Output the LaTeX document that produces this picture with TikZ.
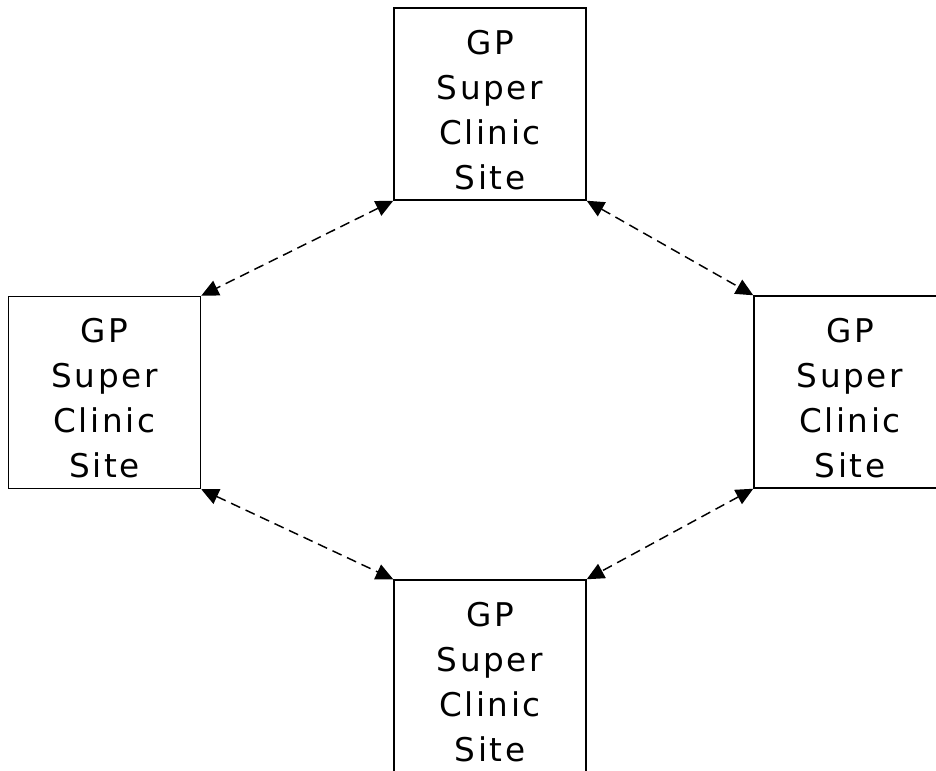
\documentclass[tikz,border=0pt]{standalone}
\usepackage{fontspec}
\usepackage{tikz}
\usetikzlibrary{arrows.meta}
\newfontfamily\sitefont{DejaVu Sans}[LetterSpace=8]

\begin{document}
\begin{tikzpicture}[x=0.75pt,y=-0.75pt,<->,>={Triangle[length=13pt,width=12pt]},
    site/.style={draw,line width=1.1pt,minimum width=144pt,minimum height=144pt,inner sep=0pt,align=center,font=\sitefont\fontsize{24.5pt}{33.75pt}\selectfont},
    link/.style={dashed,dash pattern=on 7.5pt off 4.5pt,line width=1.1pt}]

      \path[use as bounding box] (0,0) rectangle (936,771);
      \clip (0,0) rectangle (936,771);

      \node[site] (N) at (490,104) {\rule{0pt}{27pt}GP\\Super\\Clinic\\Site};
      \node[site] (W) at (104.5,392.5) {\rule{0pt}{27pt}GP\\Super\\Clinic\\Site};
      \node[site] (E) at (850,392) {\rule{0pt}{27pt}GP\\Super\\Clinic\\Site};
      \node[site] (S) at (490,676) {\rule{0pt}{27pt}GP\\Super\\Clinic\\Site};

      \draw[link] (N.south west) -- (W.north east);
      \draw[link] (N.south east) -- (E.north west);
      \draw[link] (W.south east) -- (S.north west);
      \draw[link] (E.south west) -- (S.north east);

    \end{tikzpicture}
\end{document}
